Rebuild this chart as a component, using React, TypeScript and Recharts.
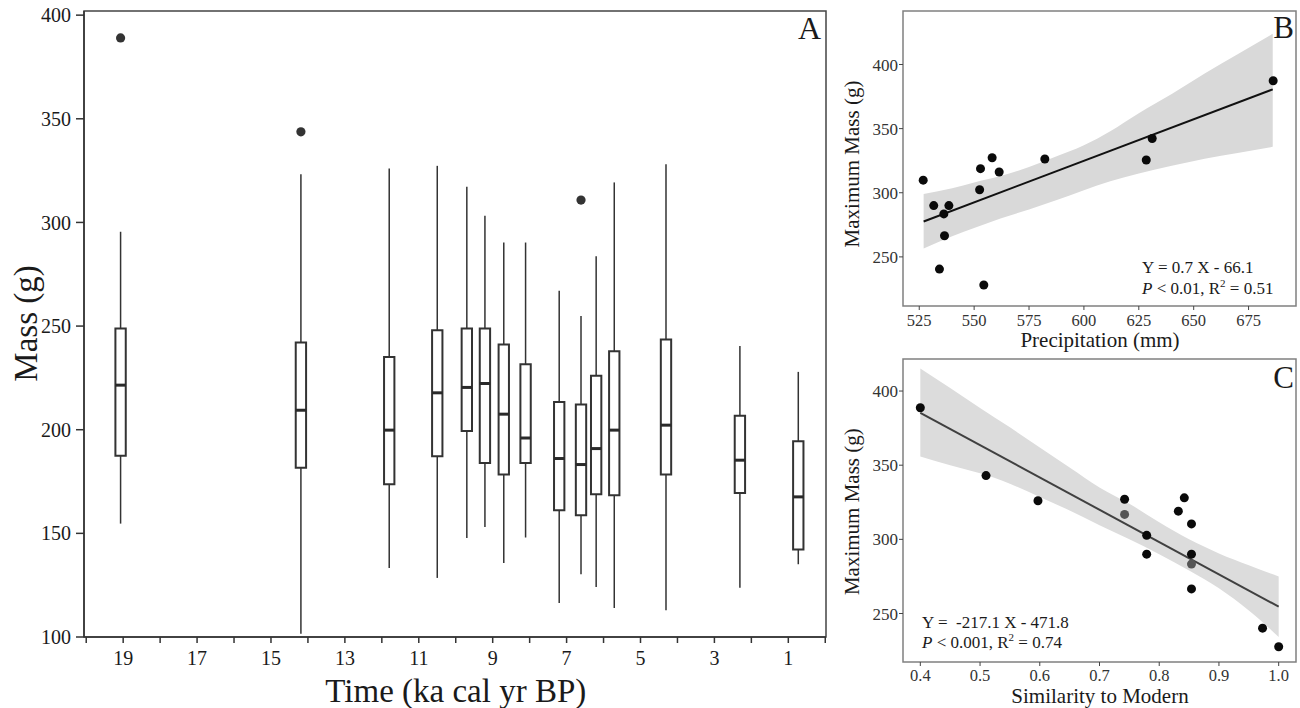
import React from 'react';
import {
  ComposedChart,
  XAxis,
  YAxis,
  Scatter,
  Line,
  Area,
  ReferenceArea,
  ReferenceLine,
} from 'recharts';

const FONT = '"Liberation Serif", "Times New Roman", Times, serif';

// ---------- Panel A: box plots of mass through time ----------
const timeKa = [19.07, 14.19, 11.8, 10.5, 9.7, 9.21, 8.7, 8.11, 7.2, 6.61, 6.2, 5.71, 4.31, 2.31, 0.73];
const whiskerLow = [154.7, 101.6, 133.3, 128.5, 147.8, 153.1, 135.7, 148, 116.4, 130.3, 124.1, 114, 112.9, 123.8, 135.1];
const quartile1 = [187.4, 181.6, 173.7, 187.2, 199.4, 184, 178.4, 184, 161.1, 158.7, 168.9, 168.4, 178.4, 169.5, 142.2];
const medianMass = [221.5, 209.4, 199.8, 217.8, 220.4, 222.3, 207.5, 196, 186.1, 183.2, 190.9, 199.8, 202.2, 185.3, 167.6];
const quartile3 = [248.8, 242.1, 235.1, 248, 248.8, 248.8, 241.1, 231.6, 213.4, 212.2, 226, 237.9, 243.5, 206.7, 194.4];
const whiskerHigh = [295.5, 323.2, 326, 327.3, 317.2, 303.2, 290.3, 290.3, 267, 254.9, 283.7, 319.3, 328.1, 240.4, 227.9];
const outlierTime = [19.07, 14.19, 6.61];
const outlierMass = [389, 343.7, 310.8];
const timeTicks = [0, 1, 2, 3, 4, 5, 6, 7, 8, 9, 10, 11, 12, 13, 14, 15, 16, 17, 18, 19, 20];
const massTicksA = [100, 150, 200, 250, 300, 350, 400];

// ---------- Panel B: max mass vs precipitation ----------
const precipitation = [526.8, 531.6, 538.5, 536.2, 536.5, 534.2, 552.9, 552.5, 558.2, 561.4, 554.4, 582.2, 628.4, 631.1, 686.2];
const maxMassB = [309.8, 290, 290, 283.5, 266.5, 240.5, 318.8, 302.3, 327.3, 316.2, 228.1, 326.3, 325.5, 342.3, 387.3];
const fitBx = [527, 686];
const fitBy = [277.6, 380.6];
const bandBx = [527, 540, 550, 562, 575, 587, 600, 612, 625, 640, 655, 670, 686];
const bandBlow = [256.5, 266, 272.5, 280, 287, 294, 302, 309, 315, 321, 326.5, 331, 335.8];
const bandBhigh = [299, 303.5, 308, 313, 320, 328, 337, 348, 362, 377, 393, 408, 423.9];
const precipTicks = [525, 550, 575, 600, 625, 650, 675];

// ---------- Panel C: max mass vs similarity to modern ----------
const similarity = [0.4, 0.51, 0.597, 0.742, 0.779, 0.779, 0.832, 0.842, 0.854, 0.854, 0.854, 0.973, 1.0];
const maxMassC = [388.7, 343, 326, 327, 302.7, 290, 319, 328, 310.4, 290, 266.6, 240.1, 227.6];
const similarityGrey = [0.742, 0.854];
const maxMassGrey = [316.8, 283.3];
const fitCx = [0.4, 1.0];
const fitCy = [385.3, 254.6];
const bandCx = [0.4, 0.45, 0.5, 0.55, 0.6, 0.65, 0.7, 0.75, 0.8, 0.85, 0.9, 0.95, 1.0];
const bandClow = [355.9, 350, 344.5, 337.5, 328.5, 319.5, 309.5, 300, 290, 279, 267, 252, 234.2];
const bandChigh = [415.2, 402, 388.5, 375.5, 362, 348.5, 335, 324, 311.5, 300, 290.5, 282.5, 274.9];
const similarityTicks = [0.4, 0.5, 0.6, 0.7, 0.8, 0.9, 1.0];
const massTicksBC = [250, 300, 350, 400];

// domains
const domA_x: [number, number] = [-0.02, 20.06];
const domA_y: [number, number] = [100, 402];
const domB_x: [number, number] = [517.6, 696.6];
const domB_y: [number, number] = [211.7, 441.7];
const domC_x: [number, number] = [0.371, 1.029];
const domC_y: [number, number] = [217.3, 421.6];

const BOX_HALF = 0.14;

const zipXY = (xs: number[], ys: number[]) => xs.map((x, i) => ({ x, y: ys[i] }));
const zipBand = (xs: number[], lo: number[], hi: number[]) =>
  xs.map((x, i) => ({ x, lo: lo[i], hi: hi[i] }));

const outliersA = zipXY(outlierTime, outlierMass);
const pointsB = zipXY(precipitation, maxMassB);
const fitB = zipXY(fitBx, fitBy);
const bandB = zipBand(bandBx, bandBlow, bandBhigh);
const pointsC = zipXY(similarity, maxMassC);
const pointsCGrey = zipXY(similarityGrey, maxMassGrey);
const fitC = zipXY(fitCx, fitCy);
const bandC = zipBand(bandCx, bandClow, bandChigh);

const dot = (fill: string, r: number) => (props: any) => {
  const { cx, cy } = props;
  if (cx == null || cy == null) return <g />;
  return <circle cx={cx} cy={cy} r={r} fill={fill} />;
};

const makeTick =
  (side: 'x' | 'y', size: number, color: string, fmt?: (v: number) => string) => (props: any) => {
    const { x, y, payload } = props;
    const v = payload && payload.value;
    const label = fmt ? fmt(v) : String(v);
    if (side === 'x') {
      return (
        <text x={x} y={y} dy="0.71em" textAnchor="middle" fontFamily={FONT} fontSize={size} fill={color}>
          {label}
        </text>
      );
    }
    return (
      <text x={x} y={y} dy="0.355em" textAnchor="end" fontFamily={FONT} fontSize={size} fill={color}>
        {label}
      </text>
    );
  };

const oddOnly = (v: number) => (v % 2 === 1 ? String(v) : '');
const oneDecimal = (v: number) => v.toFixed(1);

function PanelA() {
  return (
    <ComposedChart width={840} height={708} margin={{ top: 11, right: 14, left: 0, bottom: 0 }}>
      <XAxis
        type="number"
        dataKey="x"
        domain={domA_x}
        reversed
        allowDataOverflow
        ticks={timeTicks}
        interval={0}
        height={71}
        tickSize={6}
        tickMargin={8}
        axisLine={{ stroke: '#333', strokeWidth: 1.5 }}
        tickLine={{ stroke: '#333', strokeWidth: 1.5 }}
        tick={makeTick('x', 20, '#1a1a1a', oddOnly)}
      />
      <YAxis
        type="number"
        dataKey="y"
        domain={domA_y}
        allowDataOverflow
        ticks={massTicksA}
        interval={0}
        width={84}
        tickSize={8}
        tickMargin={5}
        axisLine={{ stroke: '#333', strokeWidth: 1.5 }}
        tickLine={{ stroke: '#333', strokeWidth: 1.5 }}
        tick={makeTick('y', 20, '#1a1a1a')}
      />
      <ReferenceArea
        x1={domA_x[0]}
        x2={domA_x[1]}
        y1={domA_y[0]}
        y2={domA_y[1]}
        fill="none"
        stroke="#444"
        strokeWidth={1.5}
        ifOverflow="visible"
      />
      {timeKa.map((t, i) => (
        <ReferenceLine
          key={'wl' + i}
          segment={[{ x: t, y: whiskerLow[i] }, { x: t, y: quartile1[i] }]}
          stroke="#333"
          strokeWidth={1.5}
        />
      ))}
      {timeKa.map((t, i) => (
        <ReferenceLine
          key={'wh' + i}
          segment={[{ x: t, y: quartile3[i] }, { x: t, y: whiskerHigh[i] }]}
          stroke="#333"
          strokeWidth={1.5}
        />
      ))}
      {timeKa.map((t, i) => (
        <ReferenceArea
          key={'box' + i}
          x1={t - BOX_HALF}
          x2={t + BOX_HALF}
          y1={quartile1[i]}
          y2={quartile3[i]}
          fill="#fff"
          fillOpacity={1}
          stroke="#333"
          strokeWidth={2}
        />
      ))}
      {timeKa.map((t, i) => (
        <ReferenceLine
          key={'med' + i}
          segment={[{ x: t - BOX_HALF, y: medianMass[i] }, { x: t + BOX_HALF, y: medianMass[i] }]}
          stroke="#2a2a2a"
          strokeWidth={3}
        />
      ))}
      <Scatter data={outliersA} shape={dot('#333', 4.6)} isAnimationActive={false} />
    </ComposedChart>
  );
}

function PanelB() {
  return (
    <ComposedChart width={460} height={360} margin={{ top: 11, right: 4, left: 0, bottom: 0 }}>
      <XAxis
        type="number"
        dataKey="x"
        domain={domB_x}
        allowDataOverflow
        ticks={precipTicks}
        interval={0}
        height={54}
        tickSize={4}
        tickMargin={4}
        axisLine={false}
        tickLine={{ stroke: '#444' }}
        tick={makeTick('x', 16.5, '#333')}
      />
      <YAxis
        type="number"
        dataKey="y"
        domain={domB_y}
        allowDataOverflow
        ticks={massTicksBC}
        interval={0}
        width={63}
        tickSize={4}
        tickMargin={1}
        axisLine={false}
        tickLine={{ stroke: '#444' }}
        tick={makeTick('y', 17, '#333')}
      />
      <Area
        data={bandB}
        dataKey={(d: any) => [d.lo, d.hi]}
        type="monotone"
        stroke="none"
        fill="#d9d9d9"
        fillOpacity={1}
        isAnimationActive={false}
      />
      <Line data={fitB} dataKey="y" type="linear" stroke="#111" strokeWidth={2} dot={false} isAnimationActive={false} />
      <Scatter data={pointsB} shape={dot('#0a0a0a', 4.5)} isAnimationActive={false} />
      <ReferenceArea
        x1={domB_x[0]}
        x2={domB_x[1]}
        y1={domB_y[0]}
        y2={domB_y[1]}
        fill="none"
        stroke="#808080"
        strokeWidth={1.5}
        ifOverflow="visible"
      />
    </ComposedChart>
  );
}

function PanelC() {
  return (
    <ComposedChart width={460} height={358} margin={{ top: 9, right: 4, left: 0, bottom: 0 }}>
      <XAxis
        type="number"
        dataKey="x"
        domain={domC_x}
        allowDataOverflow
        ticks={similarityTicks}
        interval={0}
        height={46}
        tickSize={4}
        tickMargin={3}
        axisLine={false}
        tickLine={{ stroke: '#444' }}
        tick={makeTick('x', 16.5, '#333', oneDecimal)}
      />
      <YAxis
        type="number"
        dataKey="y"
        domain={domC_y}
        allowDataOverflow
        ticks={massTicksBC}
        interval={0}
        width={63}
        tickSize={4}
        tickMargin={1}
        axisLine={false}
        tickLine={{ stroke: '#444' }}
        tick={makeTick('y', 17, '#333')}
      />
      <Area
        data={bandC}
        dataKey={(d: any) => [d.lo, d.hi]}
        type="monotone"
        stroke="none"
        fill="#dcdcdc"
        fillOpacity={1}
        isAnimationActive={false}
      />
      <Line data={fitC} dataKey="y" type="linear" stroke="#404040" strokeWidth={2} dot={false} isAnimationActive={false} />
      <Scatter data={pointsC} shape={dot('#0a0a0a', 4.5)} isAnimationActive={false} />
      <Scatter data={pointsCGrey} shape={dot('#555555', 4.5)} isAnimationActive={false} />
      <ReferenceArea
        x1={domC_x[0]}
        x2={domC_x[1]}
        y1={domC_y[0]}
        y2={domC_y[1]}
        fill="none"
        stroke="#808080"
        strokeWidth={1.5}
        ifOverflow="visible"
      />
    </ComposedChart>
  );
}

function Overlay() {
  const txt = { fontFamily: FONT, fill: '#1a1a1a' } as const;
  return (
    <svg
      width={1300}
      height={708}
      style={{ position: 'absolute', left: 0, top: 0, pointerEvents: 'none' }}
    >
      {/* Panel A */}
      <text {...txt} fontSize={33} textAnchor="middle" transform="translate(36.5,323.5) rotate(-90)">
        Mass (g)
      </text>
      <text {...txt} fontSize={33} textAnchor="middle" x={455.8} y={702}>
        Time (ka cal yr BP)
      </text>
      <text {...txt} fontSize={32} textAnchor="end" x={821} y={39}>
        A
      </text>

      {/* Panel B */}
      <text {...txt} fontSize={21} textAnchor="middle" transform="translate(859,164) rotate(-90)">
        Maximum Mass (g)
      </text>
      <text {...txt} fontSize={21} textAnchor="middle" x={1100} y={346.5}>
        Precipitation (mm)
      </text>
      <text {...txt} fontSize={31} textAnchor="end" x={1294} y={38.3}>
        B
      </text>
      <text {...txt} fontSize={17} x={1142} y={273} style={{ whiteSpace: 'pre' }}>
        Y = 0.7 X - 66.1
      </text>
      <text {...txt} fontSize={17} x={1142} y={294} style={{ whiteSpace: 'pre' }}>
        <tspan fontStyle="italic">P</tspan>
        <tspan>{' < 0.01, R'}</tspan>
        <tspan dy={-7} fontSize={11}>2</tspan>
        <tspan dy={7}>{' = 0.51'}</tspan>
      </text>

      {/* Panel C */}
      <text {...txt} fontSize={21} textAnchor="middle" transform="translate(859,511.7) rotate(-90)">
        Maximum Mass (g)
      </text>
      <text {...txt} fontSize={21} textAnchor="middle" x={1100} y={703}>
        Similarity to Modern
      </text>
      <text {...txt} fontSize={31} textAnchor="end" x={1294} y={388.3}>
        C
      </text>
      <text {...txt} fontSize={17} x={922} y={628.3} style={{ whiteSpace: 'pre' }}>
        {'Y =  -217.1 X - 471.8'}
      </text>
      <text {...txt} fontSize={17} x={922} y={648.3} style={{ whiteSpace: 'pre' }}>
        <tspan fontStyle="italic">P</tspan>
        <tspan>{' < 0.001, R'}</tspan>
        <tspan dy={-7} fontSize={11}>2</tspan>
        <tspan dy={7}>{' = 0.74'}</tspan>
      </text>
    </svg>
  );
}

export default function App() {
  return (
    <div
      style={{
        position: 'absolute',
        left: 0,
        top: 0,
        width: 1300,
        height: 708,
        background: '#fff',
        overflow: 'hidden',
        fontFamily: FONT,
      }}
    >
      <div style={{ position: 'absolute', left: 0, top: 0 }}>
        <PanelA />
      </div>
      <div style={{ position: 'absolute', left: 840, top: 0 }}>
        <PanelB />
      </div>
      <div style={{ position: 'absolute', left: 840, top: 350 }}>
        <PanelC />
      </div>
      <Overlay />
    </div>
  );
}
